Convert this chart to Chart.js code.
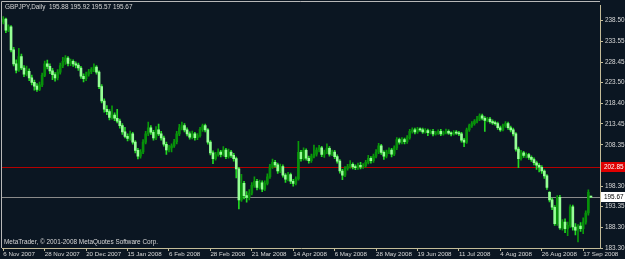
<!DOCTYPE html>
<html>
<head>
<meta charset="utf-8">
<script src="https://cdn.jsdelivr.net/npm/chart.js@4.4.0/dist/chart.umd.min.js"></script>
<style>
  html, body { margin: 0; padding: 0; background: #0b1622; overflow: hidden; }
  #wrap { width: 625px; height: 259px; }
</style>
</head>
<body>
<div id="wrap"><canvas id="chart" width="625" height="259"></canvas></div>
<script>
// GBPJPY daily bars, 6 Nov 2007 .. 19 Sep 2008
var opens = [
  238.2,238.9,236.2,237.0,231.4,228.0,226.5,229.8,227.0,225.5,
  226.2,224.6,223.5,222.6,221.8,222.9,225.2,228.0,227.4,226.3,
  225.4,224.6,226.0,227.6,228.6,229.4,228.1,228.6,228.0,227.7,
  227.0,225.0,224.4,225.5,226.1,226.6,227.2,226.0,222.5,219.0,
  217.0,216.4,215.0,215.6,214.8,214.1,213.0,211.5,210.4,209.9,
  211.0,209.0,207.0,205.6,206.6,209.0,211.0,212.5,211.4,210.0,
  212.0,211.0,210.0,208.5,207.1,207.6,208.1,209.1,211.0,212.5,
  213.0,212.0,211.0,210.2,211.0,210.1,210.6,212.1,213.0,212.0,
  209.0,206.4,205.0,206.0,206.6,206.0,207.1,205.5,206.6,205.8,
  205.0,202.5,195.0,199.0,196.0,195.6,196.6,198.5,199.5,198.0,
  199.1,197.6,199.0,200.6,203.0,204.1,203.5,202.0,203.1,201.0,
  200.0,201.1,199.5,199.0,200.1,206.5,205.0,207.0,205.1,204.5,
  205.6,206.1,207.1,207.6,206.0,206.6,207.5,206.1,206.6,205.5,
  204.4,202.0,201.0,202.6,203.1,203.6,203.0,202.8,203.4,203.0,
  203.3,204.1,205.1,204.5,205.6,206.6,208.1,206.5,205.6,206.6,
  207.1,206.1,207.6,209.6,209.0,209.6,209.1,210.1,211.6,212.0,
  211.5,212.1,212.0,211.5,211.8,211.3,211.6,211.0,211.2,211.6,
  211.0,211.3,211.6,211.2,211.0,211.4,211.2,211.0,209.5,209.0,
  212.0,213.0,213.5,214.1,214.6,215.4,214.8,214.3,214.6,214.0,
  213.7,213.5,212.5,212.0,213.0,213.5,212.5,212.0,211.0,207.3,
  205.0,206.4,205.8,206.0,205.3,204.8,204.0,203.4,202.9,202.0,
  200.8,196.8,195.0,193.2,189.2,195.6,188.2,189.6,188.0,188.8,
  193.3,188.4,187.6,188.6,188.0,189.6,191.8,195.88
];
var highs = [
  239.5,239.1,237.5,237.3,232.0,229.0,231.8,230.4,227.6,227.5,
  226.8,225.3,224.1,223.2,223.6,225.8,228.7,228.9,228.0,226.9,
  225.9,226.6,228.2,229.6,230.0,229.8,229.2,229.0,228.5,228.2,
  227.4,225.6,226.0,226.7,227.1,228.0,227.6,226.3,223.0,219.5,
  217.9,216.9,217.8,216.1,217.0,214.6,213.5,212.6,211.0,211.7,
  211.4,209.4,207.5,207.2,209.6,211.6,213.9,213.0,211.9,212.8,
  213.4,211.6,210.5,209.0,208.2,208.6,209.7,211.6,213.3,213.9,
  213.5,212.5,211.5,211.7,211.4,211.1,212.6,213.4,213.4,212.3,
  209.4,206.9,206.5,207.4,207.0,207.9,207.5,207.3,207.0,206.3,
  205.4,202.9,201.2,199.5,197.0,197.5,199.2,200.6,200.0,199.8,
  199.6,199.6,201.3,203.6,204.9,204.6,203.9,203.7,203.5,201.4,
  201.7,201.5,200.0,200.6,209.2,207.0,207.6,207.4,205.6,206.1,
  208.3,207.6,208.2,208.0,207.1,208.6,207.9,207.1,207.0,205.9,
  204.8,202.4,203.1,203.6,204.5,204.0,203.5,203.9,204.1,203.8,
  204.6,205.8,205.5,206.1,207.2,208.7,208.5,206.9,207.1,207.6,
  207.5,208.1,210.1,210.0,210.1,210.0,210.6,212.1,212.5,212.4,
  212.6,212.5,212.4,212.3,212.2,212.0,212.1,211.6,212.0,212.1,
  211.7,212.2,212.0,211.5,211.8,211.8,211.6,211.4,209.9,212.4,
  213.4,214.0,214.5,215.3,215.9,215.8,215.2,215.0,215.0,214.4,
  214.1,213.9,212.9,213.4,214.0,213.9,212.9,212.4,211.3,207.8,
  207.0,206.8,206.4,206.3,205.7,205.2,204.4,203.8,203.3,202.3,
  201.1,197.0,195.4,193.6,196.0,196.1,190.2,190.4,189.6,193.8,
  193.7,189.2,189.0,189.5,190.6,192.3,197.4,195.92
];
var lows = [
  237.7,235.6,235.8,230.9,227.5,225.8,226.2,226.6,224.9,225.1,
  223.9,222.9,221.6,221.3,221.5,222.5,224.9,226.8,225.6,224.2,
  223.8,224.1,225.5,227.1,227.9,227.5,227.6,227.4,227.0,226.4,
  224.5,223.6,223.9,225.0,225.6,226.1,225.5,222.0,218.5,216.3,
  215.7,214.4,214.6,214.2,213.7,212.4,210.9,210.0,209.3,209.5,
  208.5,206.4,204.9,205.1,206.2,208.6,210.6,210.9,209.5,209.6,
  210.6,209.5,208.0,206.0,206.6,206.6,207.7,208.6,210.6,212.0,
  211.5,210.5,209.7,209.8,209.5,209.6,210.2,211.6,211.5,208.5,
  205.9,203.8,204.6,205.6,205.4,205.6,205.0,205.1,205.3,204.4,
  200.3,192.8,194.6,195.2,194.4,195.0,196.2,198.0,197.4,197.6,
  197.0,197.2,198.6,200.2,202.6,202.9,201.4,201.6,200.5,199.2,
  199.6,198.9,198.3,198.6,199.8,204.4,204.6,204.6,203.9,204.1,
  205.2,205.6,206.6,205.5,205.3,206.2,205.6,205.7,205.0,203.9,
  201.5,199.9,200.6,202.2,202.7,202.5,202.3,202.4,202.5,202.6,
  202.9,203.7,203.9,204.1,205.2,206.2,206.0,204.8,205.2,206.2,
  205.4,205.7,207.2,208.5,208.6,208.6,208.7,209.7,211.2,211.0,
  211.1,211.6,211.1,211.2,210.6,211.0,210.5,210.7,210.9,210.6,
  210.7,211.0,210.9,210.5,210.7,210.9,210.6,209.0,207.9,208.7,
  211.6,212.6,213.1,213.7,214.2,214.4,211.6,213.9,213.6,213.3,
  213.1,212.1,211.6,211.7,212.6,212.1,211.5,210.5,206.8,202.8,
  204.6,205.3,205.2,204.8,204.3,203.5,202.4,201.8,201.4,200.2,
  197.5,194.5,192.6,188.8,188.8,187.8,187.6,187.0,186.3,188.3,
  187.6,186.5,184.8,187.3,186.8,189.1,191.3,195.57
];
var closes = [
  238.9,236.2,237.0,231.4,228.0,226.5,229.8,227.0,225.5,226.2,
  224.6,223.5,222.6,221.8,222.9,225.2,228.0,227.4,226.3,225.4,
  224.6,226.0,227.6,228.6,229.4,228.1,228.6,228.0,227.7,227.0,
  225.0,224.4,225.5,226.1,226.6,227.2,226.0,222.5,219.0,217.0,
  216.4,215.0,215.6,214.8,214.1,213.0,211.5,210.4,209.9,211.0,
  209.0,207.0,205.6,206.6,209.0,211.0,212.5,211.4,210.0,212.0,
  211.0,210.0,208.5,207.1,207.6,208.1,209.1,211.0,212.5,213.0,
  212.0,211.0,210.2,211.0,210.1,210.6,212.1,213.0,212.0,209.0,
  206.4,205.0,206.0,206.6,206.0,207.1,205.5,206.6,205.8,205.0,
  202.5,195.0,199.0,196.0,195.6,196.6,198.5,199.5,198.0,199.1,
  197.6,199.0,200.6,203.0,204.1,203.5,202.0,203.1,201.0,200.0,
  201.1,199.5,199.0,200.1,206.5,205.0,207.0,205.1,204.5,205.6,
  206.1,207.1,207.6,206.0,206.6,207.5,206.1,206.6,205.5,204.4,
  202.0,201.0,202.6,203.1,203.6,203.0,202.8,203.4,203.0,203.3,
  204.1,205.1,204.5,205.6,206.6,208.1,206.5,205.6,206.6,207.1,
  206.1,207.6,209.6,209.0,209.6,209.1,210.1,211.6,212.0,211.5,
  212.1,212.0,211.5,211.8,211.3,211.6,211.0,211.2,211.6,211.0,
  211.3,211.6,211.2,211.0,211.4,211.2,211.0,209.5,209.0,212.0,
  213.0,213.5,214.1,214.6,215.4,214.8,214.3,214.6,214.0,213.7,
  213.5,212.5,212.0,213.0,213.5,212.5,212.0,211.0,207.3,205.0,
  206.4,205.8,206.0,205.3,204.8,204.0,203.4,202.9,202.0,200.8,
  198.0,195.0,193.2,189.2,195.6,188.2,189.6,188.0,188.8,193.3,
  188.4,187.6,188.6,188.0,189.6,191.8,196.8,195.67
];

// axis labels as printed on the chart (one date every 16 bars)
var dateLabels = ['6 Nov 2007', '28 Nov 2007', '20 Dec 2007', '15 Jan 2008', '6 Feb 2008',
  '28 Feb 2008', '21 Mar 2008', '14 Apr 2008', '6 May 2008', '28 May 2008', '19 Jun 2008',
  '11 Jul 2008', '4 Aug 2008', '26 Aug 2008', '17 Sep 2008'];
var barsPerLabel = 16;
var priceTicks = [238.50, 233.55, 228.45, 223.50, 218.40, 213.45, 208.35, 198.30, 193.35, 188.30, 183.30];

var redLevel = 202.85;
var bidLevel = 195.67;
var title = 'GBPJPY,Daily  195.88 195.92 195.57 195.67';
var copyright = 'MetaTrader, \u00a9 2001-2008 MetaQuotes Software Corp.';

var FONT = '"Liberation Sans", Arial, sans-serif';
var axisColor = '#c4bc98';
var textColor = '#d8d8d8';

// 3 empty slots on the right (chart shift)
var slots = [];
for (var i = 0; i < opens.length + 3; i++) slots.push(i);

function isBear(i) { return closes[i] < opens[i]; }

var mtPlugin = {
  id: 'mt',
  beforeDraw: function (chart) {
    var c = chart.ctx;
    c.save();
    c.fillStyle = '#0b1622';
    c.fillRect(0, 0, chart.width, chart.height);
    c.restore();
  },
  beforeDatasetsDraw: function (chart) {
    var c = chart.ctx, a = chart.chartArea, y = chart.scales.y;
    c.save();
    // frame top / left
    c.strokeStyle = '#b8b8b8';
    c.lineWidth = 1;
    c.beginPath();
    c.moveTo(1.5, a.bottom);
    c.lineTo(1.5, 1.5);
    c.lineTo(a.right, 1.5);
    c.stroke();
    // level lines
    var yr = Math.round(y.getPixelForValue(redLevel)) + 0.5;
    c.strokeStyle = '#b40000';
    c.beginPath(); c.moveTo(a.left, yr); c.lineTo(a.right, yr); c.stroke();
    var yb = Math.round(y.getPixelForValue(bidLevel)) + 0.5;
    c.strokeStyle = '#8a8a8a';
    c.beginPath(); c.moveTo(a.left, yb); c.lineTo(a.right, yb); c.stroke();
    c.restore();
  },
  afterDraw: function (chart) {
    var c = chart.ctx, a = chart.chartArea, y = chart.scales.y;
    c.save();
    c.font = '6.4px ' + FONT;
    c.textBaseline = 'middle';
    c.textAlign = 'left';
    c.fillStyle = textColor;
    c.fillText(title, 5, 7);
    c.fillText(copyright, 4, 242);
    // price boxes on the axis
    var yr = Math.round(y.getPixelForValue(redLevel));
    c.fillStyle = '#e00000';
    c.fillRect(a.right + 1, yr - 5, 24, 10);
    c.fillStyle = '#ffffff';
    c.fillText(redLevel.toFixed(2), a.right + 4, yr + 0.5);
    var yb = Math.round(y.getPixelForValue(bidLevel));
    c.fillStyle = '#ffffff';
    c.fillRect(a.right + 1, yb - 5, 24, 10);
    c.fillStyle = '#000000';
    c.fillText(bidLevel.toFixed(2), a.right + 4, yb + 0.5);
    c.restore();
  }
};

var chart = new Chart(document.getElementById('chart').getContext('2d'), {
  type: 'bar',
  data: {
    labels: slots,
    datasets: [{
      label: 'body',
      data: opens.map(function (o, i) { return [o, closes[i]]; }),
      backgroundColor: function (ctx) { return isBear(ctx.dataIndex) ? '#96ff96' : '#07900a'; },
      barThickness: 2,
      minBarLength: 1,
      grouped: false,
      order: 0
    }, {
      label: 'wick',
      data: lows.map(function (l, i) { return [l, highs[i]]; }),
      backgroundColor: function (ctx) { return isBear(ctx.dataIndex) ? '#22d822' : '#0a9a0a'; },
      barThickness: 1,
      grouped: false,
      order: 1
    }]
  },
  options: {
    responsive: false,
    animation: false,
    layout: { padding: { left: 2, top: 2, right: 0, bottom: 0 } },
    plugins: { legend: { display: false }, tooltip: { enabled: false } },
    scales: {
      x: {
        type: 'category',
        offset: true,
        grid: { display: true, offset: false, drawOnChartArea: false, color: axisColor, tickLength: 3 },
        border: { color: axisColor },
        ticks: {
          autoSkip: false, maxRotation: 0, minRotation: 0, align: 'start', padding: 0,
          color: textColor, font: { family: FONT, size: 6.2 },
          callback: function (value) { return dateLabels[value / barsPerLabel]; }
        },
        afterBuildTicks: function (scale) {
          scale.ticks = scale.ticks.filter(function (t) {
            return t.value % barsPerLabel === 0 && t.value / barsPerLabel < dateLabels.length;
          });
        },
        afterFit: function (scale) { scale.height = 11; }
      },
      y: {
        position: 'right',
        min: 183.3,
        max: 242.1,
        grid: { display: true, drawOnChartArea: false, color: axisColor, tickLength: 3 },
        border: { color: axisColor },
        ticks: {
          padding: 2, color: textColor, font: { family: FONT, size: 6.4 },
          callback: function (value) { return value.toFixed(2); }
        },
        afterBuildTicks: function (scale) {
          scale.ticks = priceTicks.map(function (v) { return { value: v }; });
        },
        afterFit: function (scale) { scale.width = 25; }
      }
    }
  },
  plugins: [mtPlugin]
});
</script>
</body>
</html>
